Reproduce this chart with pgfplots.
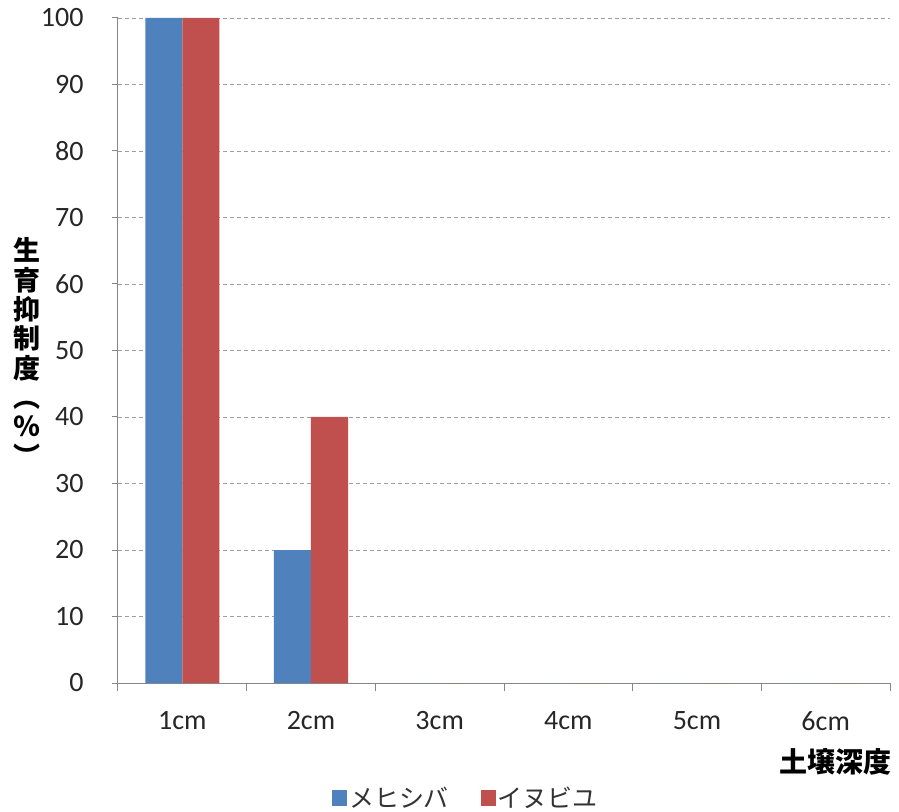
\documentclass[border=0pt]{standalone}
\usepackage{fontspec}
\setmainfont{Carlito}
\newfontfamily\cjk{Noto Sans CJK JP}
\usepackage{pgfplots}
\pgfplotsset{compat=1.18}
\definecolor{cblue}{HTML}{4F81BD}
\definecolor{cred}{HTML}{C0504D}
\definecolor{axgray}{HTML}{878787}
\begin{document}
\begin{tikzpicture}
\begin{axis}[
  at={(0,0)}, anchor=south west,
  scale only axis,
  width=772pt, height=665pt,
  xmin=0.5, xmax=6.5, ymin=0, ymax=100,
  ybar=0pt, bar width=0.288,
  axis x line*=bottom, axis y line*=left,
  axis line style={axgray, line width=1pt},
  xtick={1,2,3,4,5,6},
  xticklabels={1cm,2cm,3cm,4cm,5cm,6cm},
  major x tick style={draw=none},
  minor xtick={0.5,1.5,2.5,3.5,4.5,5.5,6.5},
  minor tick length=8pt,
  minor x tick style={axgray, line width=1pt},
  ytick={0,10,...,100},
  major tick length=6pt,
  tick align=outside,
  y tick style={axgray, line width=1pt},
  ymajorgrids,
  major grid style={gray!75, dash pattern=on 4pt off 3pt, line width=0.8pt},
  tick label style={font=\fontsize{28}{30}\selectfont, text=black!85},
  /pgf/number format/assume math mode=true,
  yticklabel style={xshift=-25pt},
  xticklabel style={yshift=-19pt},
  legend columns=2,
  legend style={draw=none, at={(0.4508,-0.173)}, anchor=center,
    font=\cjk\fontsize{25}{27}\selectfont, text=black!80,
    /tikz/every even column/.append style={column sep=30pt}},
  legend image code/.code={\fill[#1] (0pt,-8pt) rectangle (15pt,8pt);},
  legend cell align=left,
]
\addplot[fill=cblue, draw=none] coordinates {(1,100) (2,20) (3,0) (4,0) (5,0) (6,0)};
\addplot[fill=cred, draw=none] coordinates {(1,100) (2,40) (3,0) (4,0) (5,0) (6,0)};
\legend{メヒシバ,イヌビユ}
\end{axis}
\node[align=center, font=\cjk\bfseries\fontsize{27}{29.3}\selectfont, inner sep=0pt] at (-91pt,331pt) {生\\育\\抑\\制\\度\\︵\\％\\︶};
\node[font=\cjk\bfseries\fontsize{28}{30}\selectfont, inner sep=0pt] at (717pt,-79pt) {土壌深度};
\pgfresetboundingbox
\path[use as bounding box] (-118pt,-128pt) rectangle (781pt,683pt);
\end{tikzpicture}
\end{document}
